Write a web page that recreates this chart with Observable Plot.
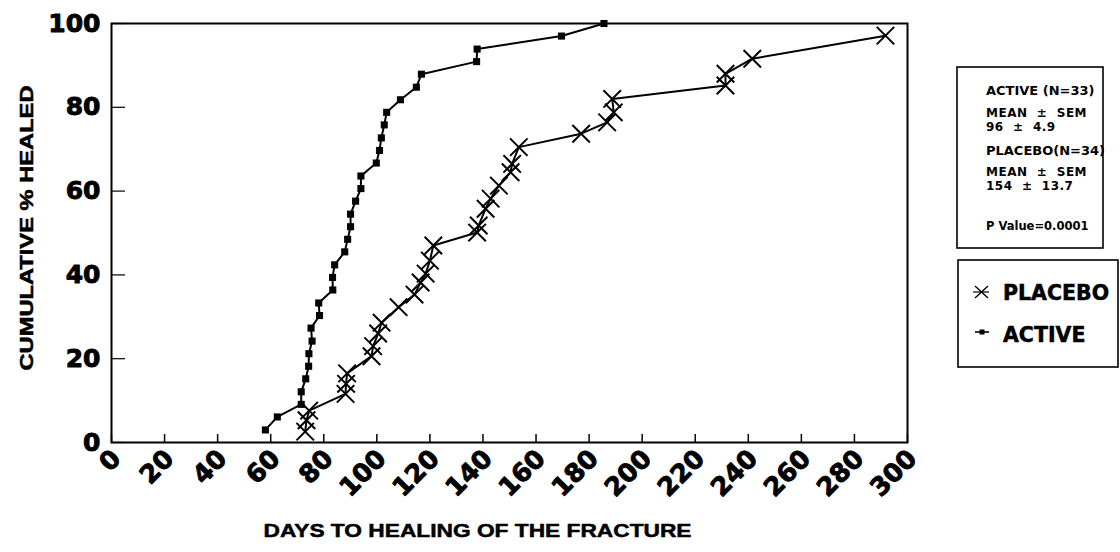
<!DOCTYPE html>
<html>
<head>
<meta charset="utf-8">
<script src="https://cdn.jsdelivr.net/npm/d3@7"></script>
<script src="https://cdn.jsdelivr.net/npm/@observablehq/plot@0.6"></script>
<style>
  html, body { margin: 0; padding: 0; background: #fff; }
  #chart { position: relative; width: 1120px; height: 552px; overflow: hidden; }
  #chart svg { display: block; }
</style>
</head>
<body>
<div id="chart"></div>
<script>
// ---- data ----
const activeDays = [58, 62.5, 71.5, 71.5, 73.2, 74.3, 74.4, 75.6, 75.2, 78.4, 78.1, 83.4, 83.3, 84.1, 87.9, 89, 90.1, 90.1, 92, 94, 94, 99.8, 101, 101.7, 102.8, 103.7, 108.9, 114.9, 116.8, 137.6, 137.8, 169.6, 185.6];
const activePct  = [3.0, 6.1, 9.1, 12.1, 15.2, 18.2, 21.2, 24.2, 27.3, 30.3, 33.3, 36.4, 39.4, 42.4, 45.5, 48.5, 51.5, 54.5, 57.6, 60.6, 63.6, 66.7, 69.7, 72.7, 75.8, 78.8, 81.8, 84.8, 87.9, 90.9, 93.9, 97.0, 100];

const placeboDays = [73, 73.5, 74.5, 88.2, 88.4, 88.8, 98, 98.6, 100.5, 101.8, 108.2, 114.2, 116.5, 118.4, 120, 121.3, 137.8, 138.4, 141, 142.9, 146, 150.4, 151, 153.5, 177, 186.8, 189.3, 188.7, 231.4, 231.4, 241.5, 291.7];
const placeboPct  = [2.6, 5.3, 7.6, 11.6, 14.0, 16.5, 20.6, 23.0, 26.0, 28.6, 32.3, 35.3, 38.2, 40.3, 43.4, 47.0, 50.1, 51.8, 55.8, 58.2, 61.3, 64.5, 66.5, 70.5, 73.7, 76.4, 78.8, 82.0, 85.2, 88.0, 91.6, 97.1];

const xTicks = [0, 20, 40, 60, 80, 100, 120, 140, 160, 180, 200, 220, 240, 260, 280, 300];
const yTicks = [0, 20, 40, 60, 80, 100];

const xTitle = "DAYS TO HEALING OF THE FRACTURE";
const yTitle = "CUMULATIVE % HEALED";

const statsLines = ["ACTIVE (N=33)", "MEAN  ±  SEM", "96  ±  4.9", "PLACEBO(N=34)", "MEAN  ±  SEM", "154  ±  13.7", "P Value=0.0001"];
const legendNames = ["PLACEBO", "ACTIVE"];

// ---- build tables ----
const active = activeDays.map((d, i) => ({day: d, pct: activePct[i]}));
const placebo = placeboDays.map((d, i) => ({day: d, pct: placeboPct[i]}));

const chart = Plot.plot({
  width: 1120,
  height: 552,
  marginLeft: 111,
  marginRight: 213,
  marginTop: 23,
  marginBottom: 110,
  x: {domain: [0, 300]},
  y: {domain: [0, 100]},
  style: {fontFamily: "DejaVu Sans", fontWeight: "bold", color: "#000", background: "#fff", overflow: "visible"},
  marks: [
    Plot.axisX({ticks: xTicks, tickSize: -8, fill: "none", strokeWidth: 1.5, label: null}),
    Plot.axisX({ticks: xTicks, tickSize: 0, tickPadding: 12, tickRotate: -45, stroke: "none", fontSize: 25.5,
      dx: 5, textStroke: "#000", textStrokeWidth: 0.9, label: null}),
    Plot.axisY({ticks: yTicks, tickSize: -14, fill: "none", strokeWidth: 1.2, label: null}),
    Plot.axisY({ticks: yTicks, tickSize: 0, tickPadding: 11, stroke: "none", fontSize: 25,
      textStroke: "#000", textStrokeWidth: 0.9, label: null}),
    Plot.frame({stroke: "#000", strokeWidth: 2}),
    Plot.line(placebo, {x: "day", y: "pct", stroke: "#000", strokeWidth: 2}),
    Plot.dot(placebo, {x: "day", y: "pct", symbol: "times", r: 8, stroke: "#000", strokeWidth: 2}),
    Plot.line(active, {x: "day", y: "pct", stroke: "#000", strokeWidth: 2}),
    Plot.dot(active, {x: "day", y: "pct", symbol: "square", r: 4, fill: "#000", stroke: "none"}),
    Plot.text([xTitle], {frameAnchor: "bottom", textAnchor: "middle", dx: -32, dy: 94, fontSize: 19,
      fontFamily: "Liberation Sans", fontWeight: "bold", fill: "#000", stroke: "#000", strokeWidth: 0.5}),
    Plot.text([yTitle], {frameAnchor: "left", textAnchor: "middle", dx: -84, dy: -5, rotate: -90, fontSize: 18,
      fontFamily: "Liberation Sans", fontWeight: "bold", fill: "#000", stroke: "#000", strokeWidth: 0.5})
  ]
});

document.getElementById("chart").appendChild(chart);

// stretch titles to reference widths
const svg = d3.select(chart);
svg.selectAll("text").each(function () {
  const t = d3.select(this).text();
  if (t === xTitle) d3.select(this).attr("textLength", 428).attr("lengthAdjust", "spacingAndGlyphs");
  if (t === yTitle) d3.select(this).attr("textLength", 285).attr("lengthAdjust", "spacingAndGlyphs");
});

// ---- stats box and legend (drawn beside the plot) ----
const g = svg.append("g").attr("font-family", "DejaVu Sans").attr("font-weight", "bold")
  .attr("fill", "#000").attr("text-anchor", "start");
g.append("rect").attr("x", 957).attr("y", 67).attr("width", 146).attr("height", 181)
  .attr("fill", "none").attr("stroke", "#000").attr("stroke-width", 1.6);
const statY = [95, 117, 131, 155, 176, 190, 230];
const statSize = [13, 12, 12, 13, 12, 12, 11.5];
const statSpacing = [0, 0.5, 0.5, 0, 0.5, 0.5, 0];
statsLines.forEach((s, i) => {
  g.append("text").attr("x", 986).attr("y", statY[i]).attr("font-size", statSize[i])
    .attr("letter-spacing", statSpacing[i])
    .attr("text-anchor", "start").style("white-space", "pre").text(s);
});

g.append("rect").attr("x", 958).attr("y", 260).attr("width", 160).attr("height", 107)
  .attr("fill", "none").attr("stroke", "#000").attr("stroke-width", 1.6);
// placebo symbol
g.append("line").attr("x1", 973).attr("x2", 989).attr("y1", 292).attr("y2", 292).attr("stroke", "#000").attr("stroke-width", 1.2);
g.append("path").attr("d", "M975,286L988,298M975,298L988,286").attr("stroke", "#000").attr("stroke-width", 1.4).attr("fill", "none");
// active symbol
g.append("line").attr("x1", 975).attr("x2", 989).attr("y1", 332).attr("y2", 332).attr("stroke", "#000").attr("stroke-width", 1.6);
g.append("rect").attr("x", 979.5).attr("y", 329.5).attr("width", 5).attr("height", 5).attr("fill", "#000");
g.append("text").attr("x", 1003).attr("y", 300).attr("font-size", 20.5).attr("text-anchor", "start")
  .attr("stroke", "#000").attr("stroke-width", 0.5).text(legendNames[0]);
g.append("text").attr("x", 1003).attr("y", 342).attr("font-size", 20.5).attr("text-anchor", "start")
  .attr("stroke", "#000").attr("stroke-width", 0.5).text(legendNames[1]);
</script>
</body>
</html>
